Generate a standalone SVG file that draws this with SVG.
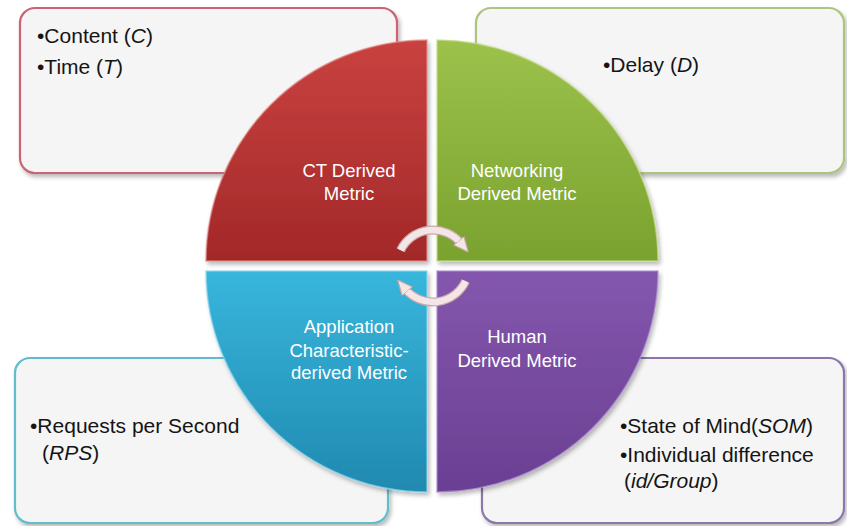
<svg xmlns="http://www.w3.org/2000/svg" width="847" height="526" viewBox="0 0 847 526">
<style>
.box{fill:#f5f5f5;stroke-width:2.2}
.bt{font-family:"Liberation Sans",Arial,sans-serif;font-size:21px;fill:#141414}
.ql{font-family:"Liberation Sans",Arial,sans-serif;font-size:18.5px;fill:#ffffff;text-anchor:middle}
.it{font-style:italic}
.q{stroke-width:1.5;stroke-opacity:0.7}
.arrO{fill:none;stroke:#c9a9aa;stroke-width:9}
.arrI{fill:none;stroke:#f4e6e6;stroke-width:6.5}
</style>
<defs>
<filter id="sh" x="-10%" y="-10%" width="125%" height="130%">
<feDropShadow dx="2" dy="3" stdDeviation="2" flood-color="#000" flood-opacity="0.28"/>
</filter>
<linearGradient id="gRed" x1="0" y1="0" x2="0" y2="1">
<stop offset="0" stop-color="#c94240"/><stop offset="1" stop-color="#a32828"/>
</linearGradient>
<linearGradient id="gGreen" x1="0" y1="0" x2="0" y2="1">
<stop offset="0" stop-color="#9cc24c"/><stop offset="1" stop-color="#7aa22e"/>
</linearGradient>
<linearGradient id="gBlue" x1="0" y1="0" x2="0" y2="1">
<stop offset="0" stop-color="#38b6dc"/><stop offset="1" stop-color="#2089b0"/>
</linearGradient>
<linearGradient id="gPurple" x1="0" y1="0" x2="0" y2="1">
<stop offset="0" stop-color="#8457ae"/><stop offset="1" stop-color="#6a3f92"/>
</linearGradient>
<marker id="ah" viewBox="0 0 10 10" refX="2" refY="5" markerWidth="15" markerHeight="15" markerUnits="userSpaceOnUse" orient="auto">
<path d="M0,0.5 L10,5 L0,9.5 z" fill="#f4e6e6" stroke="#c9a9aa" stroke-width="0.8"/>
</marker>
</defs>
<rect width="847" height="526" fill="#ffffff"/>

<g id="box-ct">
<rect class="box" x="20" y="8" width="377" height="165" rx="15" stroke="#cc6474" filter="url(#sh)"/>
<text class="bt" x="37" y="43">•Content (<tspan class="it">C</tspan>)</text>
<text class="bt" x="37" y="74">•Time (<tspan class="it">T</tspan>)</text>
</g>
<g id="box-net">
<rect class="box" x="476" y="8" width="368" height="165" rx="15" stroke="#adc47e" filter="url(#sh)"/>
<text class="bt" x="603" y="72">•Delay (<tspan class="it">D</tspan>)</text>
</g>
<g id="box-app">
<rect class="box" x="15" y="358" width="373" height="165" rx="15" stroke="#62bccb" filter="url(#sh)"/>
<text class="bt" x="30" y="433">•Requests per Second</text>
<text class="bt" x="42" y="460">(<tspan class="it">RPS</tspan>)</text>
</g>
<g id="box-human">
<rect class="box" x="482" y="358" width="362" height="165" rx="15" stroke="#8c76aa" filter="url(#sh)"/>
<text class="bt" x="620" y="433">•State of Mind(<tspan class="it">SOM</tspan>)</text>
<text class="bt" x="620" y="462">•Individual difference</text>
<text class="bt" x="624" y="488">(<tspan class="it">id/Group</tspan>)</text>
</g>

<g id="q-ct">
<path class="q" d="M427,261 L206,261 A221,221 0 0 1 427,40 Z" fill="url(#gRed)" stroke="#e08a88" filter="url(#sh)"/>
<text class="ql" x="349" y="177">CT Derived</text>
<text class="ql" x="349" y="200">Metric</text>
</g>
<g id="q-net">
<path class="q" d="M437,261 L437,40 A221,221 0 0 1 658,261 Z" fill="url(#gGreen)" stroke="#c4dc8a" filter="url(#sh)"/>
<text class="ql" x="517" y="177">Networking</text>
<text class="ql" x="517" y="200">Derived Metric</text>
</g>
<g id="q-app">
<path class="q" d="M427,271 L427,492 A221,221 0 0 1 206,271 Z" fill="url(#gBlue)" stroke="#8ad6ee" filter="url(#sh)"/>
<text class="ql" x="349" y="333">Application</text>
<text class="ql" x="349" y="357">Characteristic-</text>
<text class="ql" x="349" y="379">derived Metric</text>
</g>
<g id="q-human">
<path class="q" d="M437,271 L658,271 A221,221 0 0 1 437,492 Z" fill="url(#gPurple)" stroke="#ac8cd0" filter="url(#sh)"/>
<text class="ql" x="517" y="343">Human</text>
<text class="ql" x="517" y="367">Derived Metric</text>
</g>

<g id="connectors">
<path class="arrO" d="M400.6,250.2 A36,36 0 0 1 460.6,242.9"/>
<path class="arrI" d="M400.6,250.2 A36,36 0 0 1 460.6,242.9" marker-end="url(#ah)"/>
<path class="arrO" d="M465.6,281.2 A36,36 0 0 1 405.4,289.1"/>
<path class="arrI" d="M465.6,281.2 A36,36 0 0 1 405.4,289.1" marker-end="url(#ah)"/>
</g>
</svg>
